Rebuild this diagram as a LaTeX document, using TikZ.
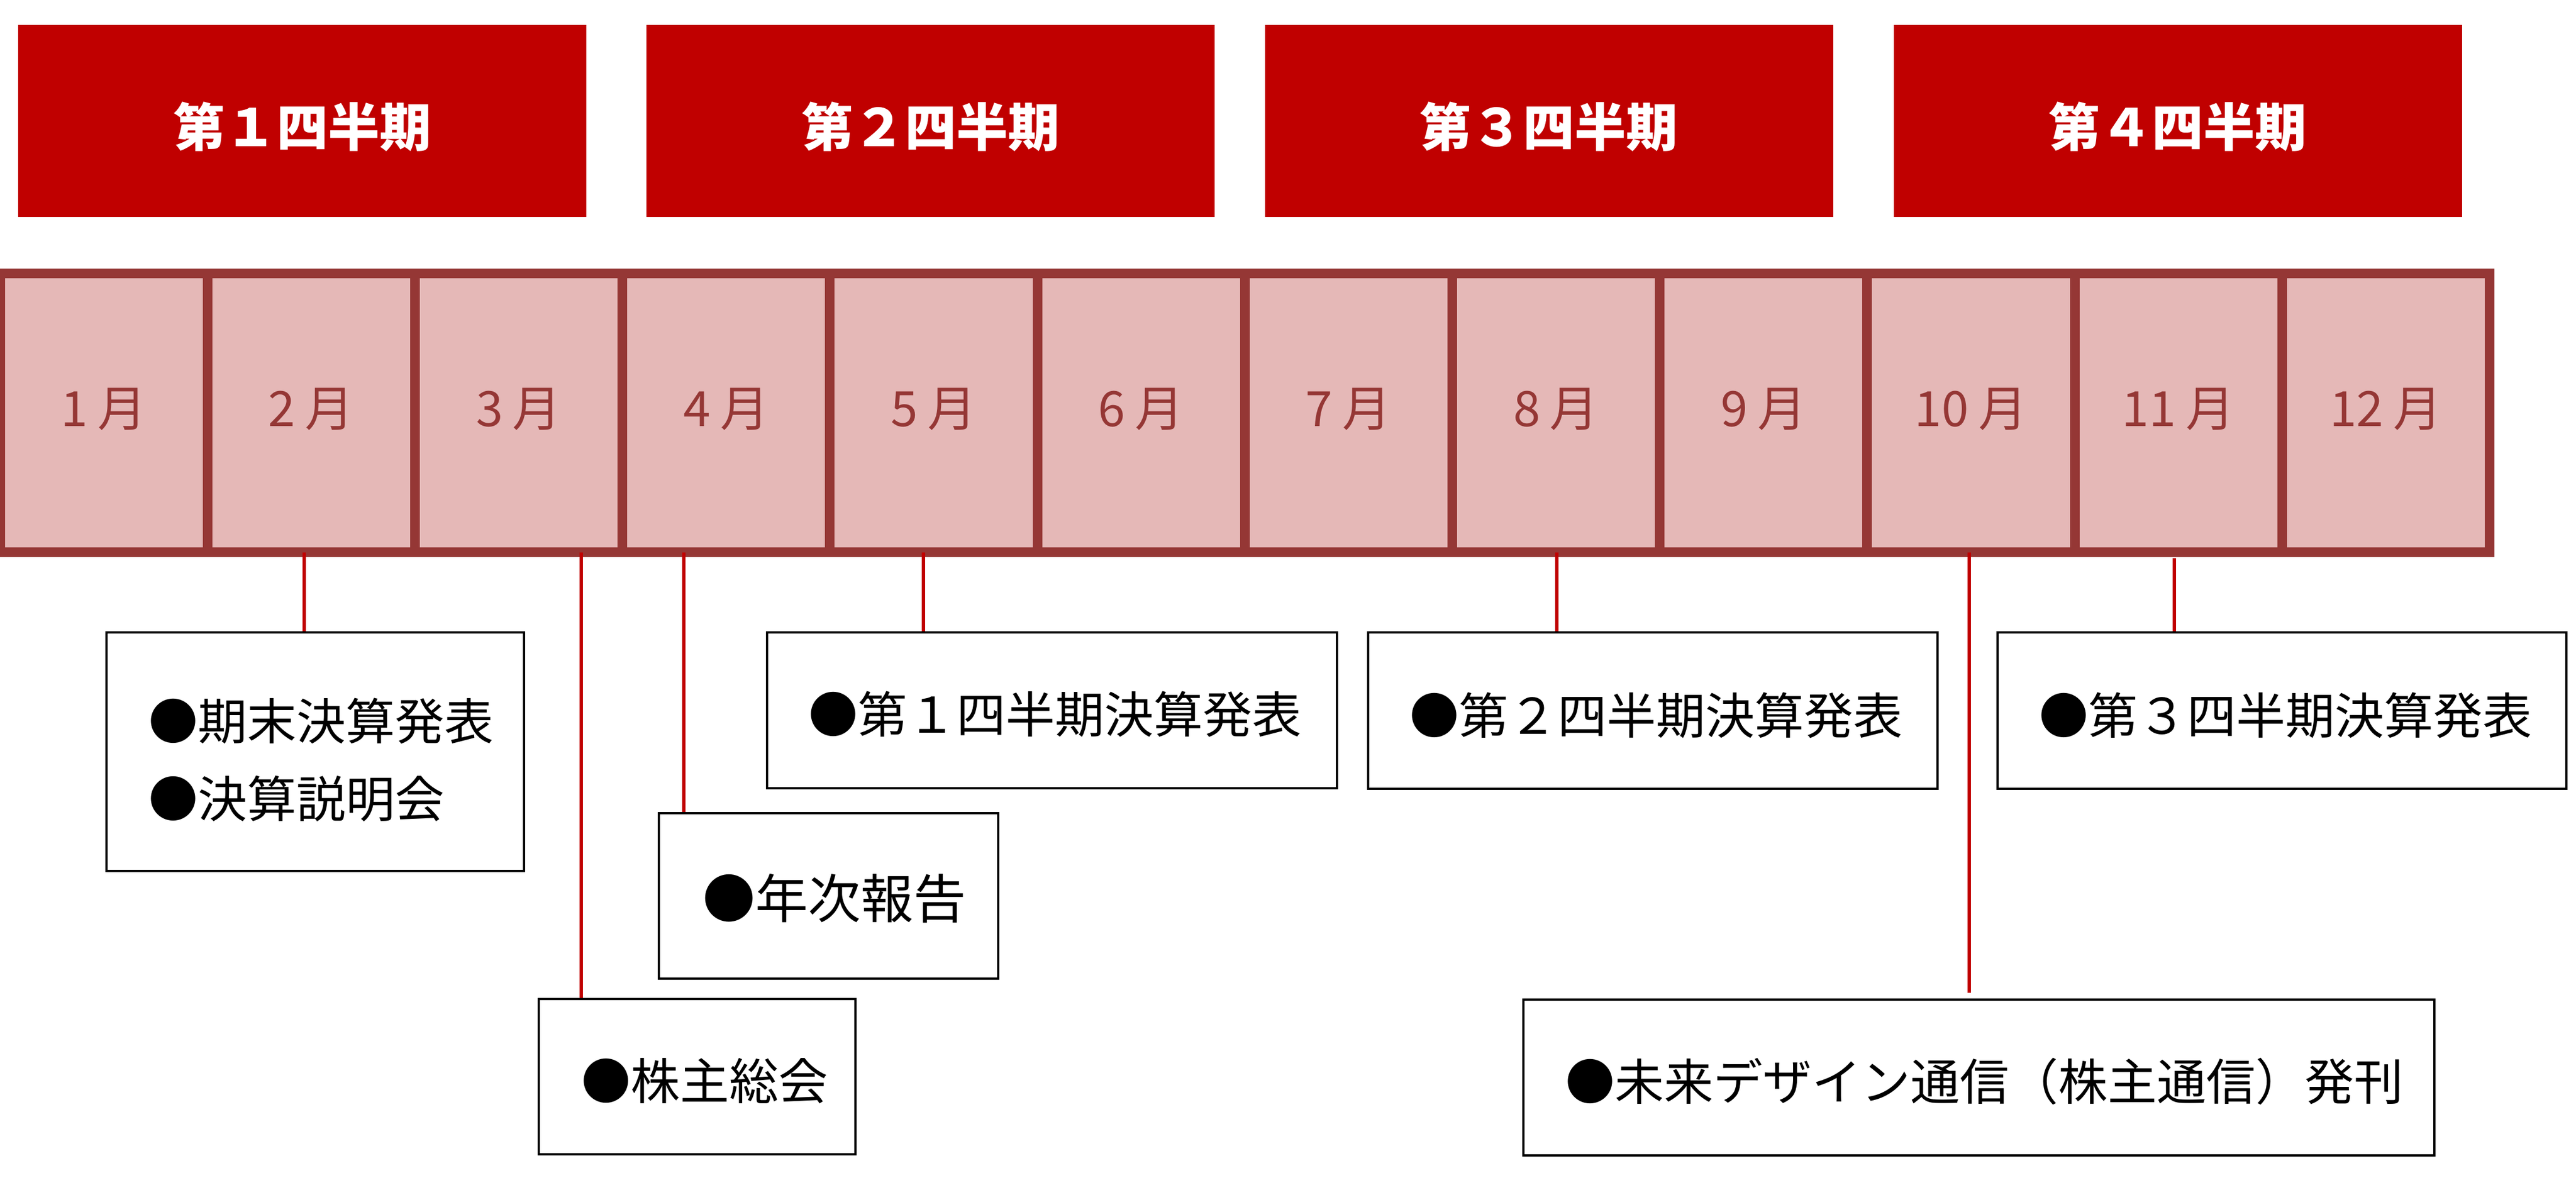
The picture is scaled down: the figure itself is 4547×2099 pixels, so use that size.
\documentclass[tikz,border=0pt]{standalone}
\usepackage{fontspec}
\setmainfont{Noto Sans CJK JP}
\definecolor{qred}{HTML}{C00000}
\definecolor{cellfill}{HTML}{E5B8B7}
\definecolor{cellline}{HTML}{953735}
\begin{document}
\begin{tikzpicture}[x=1pt,y=-1pt,
  qbox/.style={rectangle,fill=qred,draw=none,inner sep=0pt,minimum width=1003pt,minimum height=339pt},
  qtext/.style={text=white,font=\fontsize{91pt}{105pt}\selectfont\bfseries,inner sep=0pt},
  mcell/.style={rectangle,fill=cellfill,draw=cellline,line width=17pt,inner sep=0pt,minimum width=366.2pt,minimum height=491.5pt},
  mlabel/.style={text=cellline,font=\fontsize{86pt}{100pt}\selectfont,inner sep=0pt},
  evbox/.style={rectangle,draw=black,line width=4.5pt,fill=white,inner sep=0pt},
  evtext/.style={anchor=west,inner sep=0pt,text=black,font=\fontsize{87pt}{137pt}\selectfont,align=left},
  conn/.style={draw=qred,line width=6pt}]
\useasboundingbox (0,0) rectangle (4547,2099);

% quarter headers
\node[qbox] (q1) at (533.5,213.5) {};
\node[qbox] (q2) at (1642.5,213.5) {};
\node[qbox] (q3) at (2734,213.5) {};
\node[qbox] (q4) at (3844,213.5) {};
\node[qtext] (q1t) at ([yshift=-10pt]q1.center) {第１四半期};
\node[qtext] (q2t) at ([yshift=-10pt]q2.center) {第２四半期};
\node[qtext] (q3t) at ([yshift=-10pt]q3.center) {第３四半期};
\node[qtext] (q4t) at ([yshift=-10pt]q4.center) {第４四半期};

% month bar
\foreach \i in {1,...,12}{
  \node[mcell] (m\i) at ({(\i-0.5)*366.2},728.25) {};
}
\foreach \i in {1,...,12}{
  \node[mlabel] (l\i) at ([yshift=6pt]m\i.center) {\i\hspace{0.2em}月};
}

% event boxes
\node[evbox,minimum width=737pt,minimum height=421pt] (bA) at (556.5,1326.5) {};
\node[evbox,minimum width=1006pt,minimum height=275pt] (bB) at (1857,1253.5) {};
\node[evbox,minimum width=1005pt,minimum height=276pt] (bC) at (2917.5,1254) {};
\node[evbox,minimum width=1004pt,minimum height=276pt] (bD) at (4028,1254) {};
\node[evbox,minimum width=599pt,minimum height=292pt] (bE) at (1462.5,1581) {};
\node[evbox,minimum width=559pt,minimum height=274pt] (bF) at (1230.5,1900) {};
\node[evbox,minimum width=1608pt,minimum height=275pt] (bG) at (3493,1901.5) {};

\node[evtext] (tA) at ([xshift=77pt,yshift=-14.5pt]bA.west) {●期末決算発表\\●決算説明会};
\node[evtext] (tB) at ([xshift=76pt,yshift=-7pt]bB.west) {●第１四半期決算発表};
\node[evtext] (tC) at ([xshift=76pt,yshift=-8pt]bC.west) {●第２四半期決算発表};
\node[evtext] (tD) at ([xshift=76pt,yshift=-8pt]bD.west) {●第３四半期決算発表};
\node[evtext,font=\fontsize{93pt}{110pt}\selectfont] (tE) at ([xshift=80pt,yshift=-4pt]bE.west) {●年次報告};
\node[evtext] (tF) at ([xshift=78pt,yshift=-7pt]bF.west) {●株主総会};
\node[evtext] (tG) at ([xshift=77pt,yshift=-7pt]bG.west) {●未来デザイン通信（株主通信）発刊};

% connectors
\coordinate (cA) at (537,975);
\coordinate (cB) at (1630,975);
\coordinate (cC) at (2748,975);
\coordinate (cD) at (3838,985);
\coordinate (cE) at (1207,975);
\coordinate (cF) at (1026,975);
\coordinate (cG) at (3476,975);
\coordinate (gEnd) at (3476,1752);
\draw[conn] (cA) -- (cA |- bA.north);
\draw[conn] (cB) -- (cB |- bB.north);
\draw[conn] (cC) -- (cC |- bC.north);
\draw[conn] (cD) -- (cD |- bD.north);
\draw[conn] (cE) -- (cE |- bE.north);
\draw[conn] (cF) -- (cF |- bF.north);
\draw[conn] (cG) -- (gEnd);
\end{tikzpicture}
\end{document}
